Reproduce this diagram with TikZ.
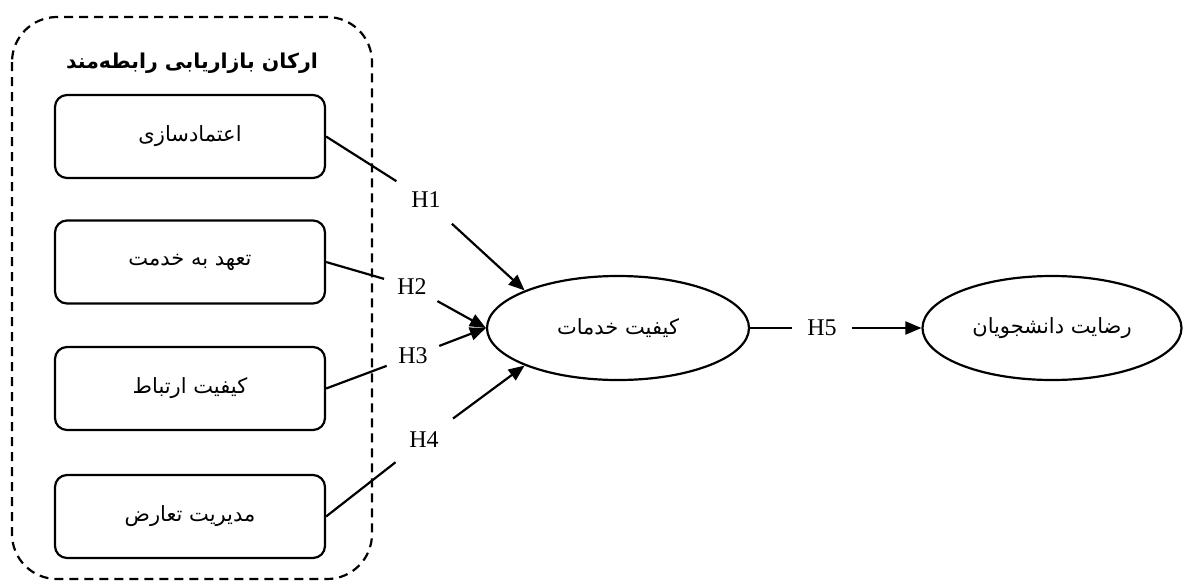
\documentclass[tikz,border=0pt]{standalone}
\usepackage{fontspec}
\usetikzlibrary{arrows.meta,shapes.geometric}
\TeXXeTstate=1
\newfontfamily\fa[Script=Arabic]{DejaVu Sans}
\newfontfamily\hfont{Liberation Serif}
\begin{document}
\begin{tikzpicture}[x=1pt,y=-1pt,
  line width=2.2pt,
  outer/.style={draw, dashed, dash pattern=on 9pt off 6pt, rounded corners=45pt},
  boxnode/.style={draw, rounded corners=12pt, minimum width=270pt, minimum height=83pt, inner sep=0pt, font=\fa\fontsize{21}{24}\selectfont},
  ell/.style={draw, ellipse, minimum width=262pt, minimum height=104pt, inner sep=0pt, font=\fa\fontsize{21}{24}\selectfont},
  hlab/.style={circle, minimum size=#1, inner sep=0pt, font=\hfont\fontsize{24}{28}\selectfont},
  arr/.style={-{Triangle[length=16pt,width=13pt]}}
]
\useasboundingbox (0,0) rectangle (1183,582);
\draw[outer] (12,17) rectangle (372,579);
\node[font=\fa\bfseries\fontsize{20.5}{24}\selectfont] (title) at (192,63) {\beginR ارکان بازاریابی رابطه‌مند\endR};
\node[boxnode] (b1) at (190,136.5) {\beginR اعتمادسازی\endR};
\node[boxnode] (b2) at (190,262) {\beginR تعهد به خدمت\endR};
\node[boxnode] (b3) at (190,388.5) {\beginR کیفیت ارتباط\endR};
\node[boxnode] (b4) at (190,516.5) {\beginR مدیریت تعارض\endR};
\node[ell] (e1) at (618,328) {\beginR کیفیت خدمات\endR};
\node[ell, minimum width=259pt] (e2) at (1052,328) {\beginR رضایت دانشجویان\endR};
\node[hlab=68pt] (h1) at (426,200) {H1};
\node[hlab=56pt] (h2) at (412,287) {H2};
\node[hlab=54pt] (h3) at (413,356) {H3};
\node[hlab=70pt] (h4) at (424,440) {H4};
\node[hlab=58pt] (h5) at (822,328) {H5};
\draw (b1.east) -- (h1);
\draw (b2.east) -- (h2);
\draw (b3.east) -- (h3);
\draw (b4.east) -- (h4);
\draw[arr] (h1) -- (e1.north west);
\draw[arr] (h2) -- (e1.west);
\draw[arr] (h3) -- (e1.west);
\draw[arr] (h4) -- (e1.south west);
\draw (e1.east) -- (h5);
\draw[arr] (h5) -- (e2.west);
\end{tikzpicture}
\end{document}
